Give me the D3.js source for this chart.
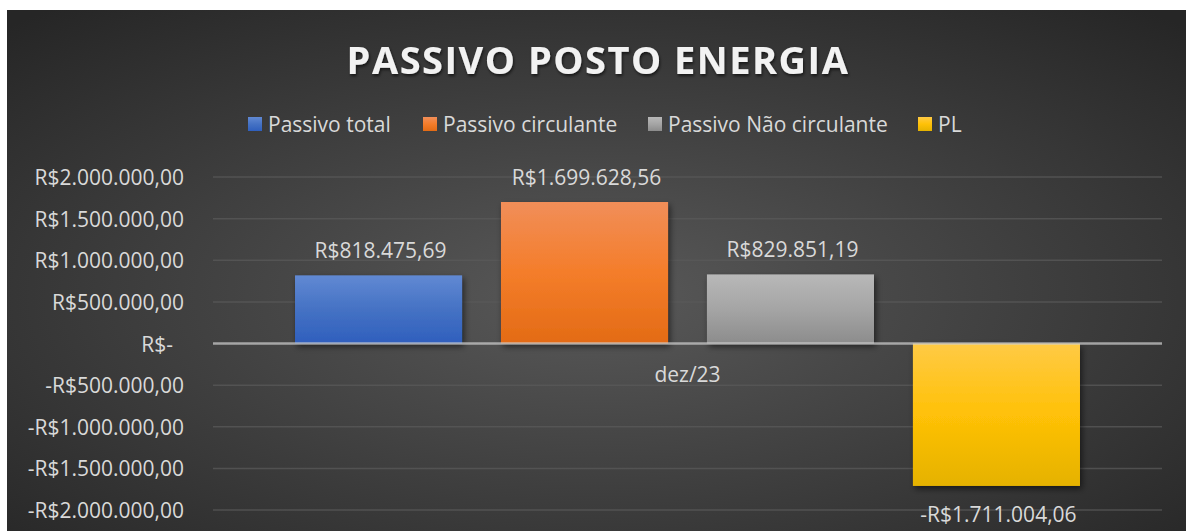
<!DOCTYPE html>
<html>
<head>
<meta charset="utf-8">
<script src="https://cdn.jsdelivr.net/npm/d3@7"></script>
<style>
  html, body { margin: 0; padding: 0; background: #ffffff; }
  svg { display: block; }
  text { font-family: "Open Sans", "Noto Sans", sans-serif; }
</style>
</head>
<body>
<svg id="chart" width="1186" height="531"></svg>
<script>
// ---- data ----
const title = "PASSIVO POSTO ENERGIA";
const categories = ["dez/23"];
const seriesNames = ["Passivo total", "Passivo circulante", "Passivo Não circulante", "PL"];
const seriesValues = [818475.69, 1699628.56, 829851.19, -1711004.06];
const yTicks = [-2000000, -1500000, -1000000, -500000, 0, 500000, 1000000, 1500000, 2000000];

// ---- styles ----
const colors = [
  { top: "#6189d3", mid: "#4572c4", bot: "#2f5fbd" },
  { top: "#f18e59", mid: "#f47d2a", bot: "#e36b15" },
  { top: "#b8b8b8", mid: "#a5a5a5", bot: "#8c8c8c" },
  { top: "#ffca45", mid: "#ffc107", bot: "#e5b200" }
];
const textColor = "#d9d9d9";

const W = 1186, H = 531;
const svg = d3.select("#chart");
const defs = svg.append("defs");

// background gradient
const bg = defs.append("radialGradient").attr("id", "bg")
  .attr("cx", 0.5).attr("cy", 0.55).attr("r", 0.72);
bg.append("stop").attr("offset", 0).attr("stop-color", "#595959");
bg.append("stop").attr("offset", 1).attr("stop-color", "#262626");

colors.forEach((c, i) => {
  const g = defs.append("linearGradient").attr("id", "g" + i)
    .attr("x1", 0).attr("y1", 0).attr("x2", 0).attr("y2", 1);
  g.append("stop").attr("offset", 0).attr("stop-color", c.top);
  g.append("stop").attr("offset", 0.5).attr("stop-color", c.mid);
  g.append("stop").attr("offset", 1).attr("stop-color", c.bot);
});

const shadow = defs.append("filter").attr("id", "shadow")
  .attr("x", "-20%").attr("y", "-20%").attr("width", "140%").attr("height", "140%");
shadow.append("feDropShadow").attr("dx", 2).attr("dy", 3).attr("stdDeviation", 3)
  .attr("flood-color", "#000").attr("flood-opacity", 0.55);

const tshadow = defs.append("filter").attr("id", "tshadow")
  .attr("x", "-10%").attr("y", "-30%").attr("width", "120%").attr("height", "160%");
tshadow.append("feDropShadow").attr("dx", 1).attr("dy", 2).attr("stdDeviation", 1.5)
  .attr("flood-color", "#000").attr("flood-opacity", 0.6);

// chart area
svg.append("rect").attr("x", 7).attr("y", 10).attr("width", W - 7).attr("height", H - 10)
  .attr("fill", "url(#bg)");

// scales
const plot = { left: 213, right: 1162, top: 177, bottom: 510 };
const y = d3.scaleLinear().domain([-2000000, 2000000]).range([plot.bottom, plot.top]);
const x0 = d3.scaleBand().domain(categories).range([plot.left, plot.right])
  .paddingInner(0.0946).paddingOuter(0.0946);
const x1 = d3.scaleBand().domain(seriesNames).range([0, x0.bandwidth()])
  .paddingInner(0.189).paddingOuter(0);

// currency formatting (pt-BR)
const fmt = d3.formatLocale({ decimal: ",", thousands: ".", grouping: [3], currency: ["R$", ""] });
const money = fmt.format(",.2f");
function brl(v) {
  if (v === 0) return "R$-";
  return (v < 0 ? "-" : "") + "R$" + money(Math.abs(v));
}

// gridlines
const grid = svg.append("g");
grid.selectAll("line").data(yTicks.filter(d => d !== 0)).join("line")
  .attr("x1", plot.left).attr("x2", plot.right)
  .attr("y1", d => y(d)).attr("y2", d => y(d))
  .attr("stroke", "#5a5a5a").attr("stroke-opacity", 0.75).attr("stroke-width", 1.5);

// y axis labels via d3 axis
const yAxis = d3.axisLeft(y).tickValues(yTicks).tickFormat(brl).tickSize(0).tickPadding(0);
const yg = svg.append("g").attr("transform", "translate(184,0)").call(yAxis);
yg.select(".domain").remove();
yg.selectAll("text")
  .attr("fill", textColor).attr("font-size", 21)
  .attr("font-family", '"Open Sans", sans-serif')
  .attr("dy", "0.36em")
  .attr("x", d => d === 0 ? -11 : 0);

// bars
const barsG = svg.append("g");
categories.forEach(cat => {
  seriesNames.forEach((s, i) => {
    const v = seriesValues[i];
    const bx = x0(cat) + x1(s);
    barsG.append("rect")
      .attr("x", bx).attr("width", x1.bandwidth())
      .attr("y", y(Math.max(0, v)))
      .attr("height", Math.abs(y(v) - y(0)))
      .attr("fill", "url(#g" + i + ")")
      .attr("filter", "url(#shadow)");
  });
});

// zero axis line
svg.append("line").attr("x1", plot.left).attr("x2", plot.right)
  .attr("y1", y(0)).attr("y2", y(0))
  .attr("stroke", "#d0d0d0").attr("stroke-opacity", 0.7).attr("stroke-width", 2.5);

// data labels
categories.forEach(cat => {
  seriesNames.forEach((s, i) => {
    const v = seriesValues[i];
    const cx = x0(cat) + x1(s) + x1.bandwidth() / 2;
    svg.append("text")
      .attr("x", cx + 2)
      .attr("y", v >= 0 ? y(v) - 17 : y(v) + 36)
      .attr("text-anchor", "middle")
      .attr("fill", textColor).attr("font-size", 21)
      .text(brl(v));
  });
});

// category label
const xAxis = d3.axisBottom(x0).tickSize(0).tickPadding(0);
const xg = svg.append("g").attr("transform", "translate(0," + y(0) + ")").call(xAxis);
xg.select(".domain").remove();
xg.selectAll("text").attr("fill", textColor).attr("font-size", 21)
  .attr("font-family", '"Open Sans", sans-serif')
  .attr("dy", 0).attr("y", 38);

// title
svg.append("text").attr("x", 598).attr("y", 74)
  .attr("text-anchor", "middle").attr("fill", "#f2f2f2")
  .attr("font-size", 38).attr("font-weight", "bold").attr("letter-spacing", 1.5)
  .attr("filter", "url(#tshadow)")
  .text(title);

// legend
const legendX = [248, 423, 648, 918];
const legend = svg.append("g");
seriesNames.forEach((s, i) => {
  const g = legend.append("g").attr("transform", "translate(" + legendX[i] + ",117)");
  g.append("rect").attr("width", 14).attr("height", 14).attr("fill", "url(#g" + i + ")");
  g.append("text").attr("x", 20).attr("y", 15)
    .attr("fill", textColor).attr("font-size", 21).text(s);
});
</script>
</body>
</html>
